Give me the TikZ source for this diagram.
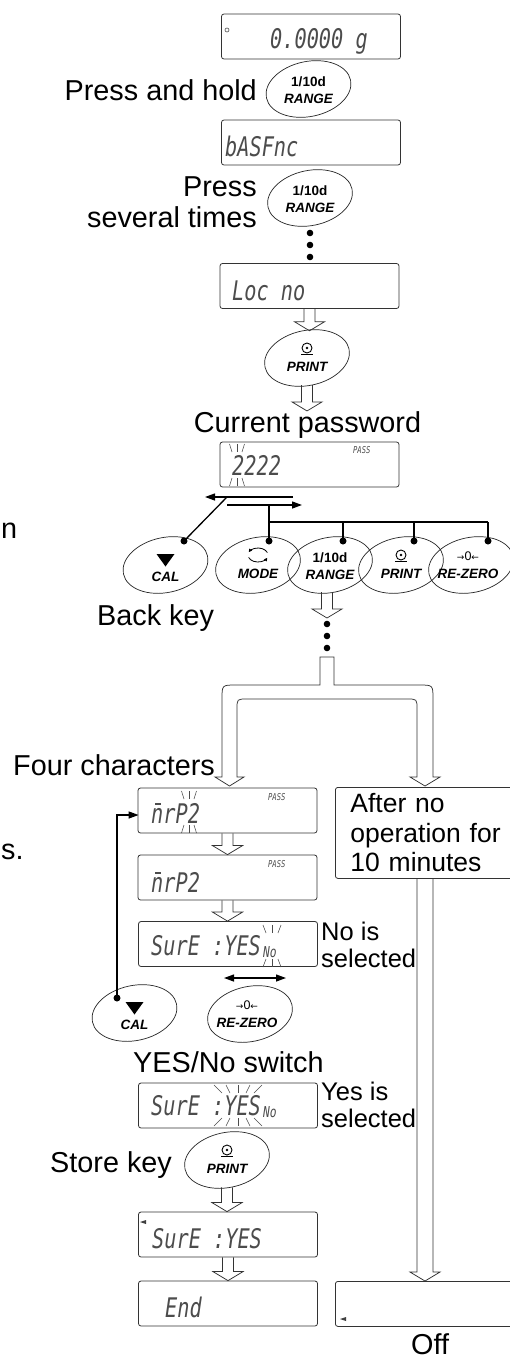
\documentclass[tikz,border=0pt]{standalone}
\usepackage{fontspec}
\setmainfont{Liberation Sans}
\newfontfamily\segf{DejaVu Sans Mono}
\newfontfamily\djf{DejaVu Sans}
\usepackage{graphicx}
\usetikzlibrary{shapes.geometric,arrows.meta,calc}
\newcommand\sg[1]{\scalebox{0.75}[1]{#1}}
\tikzset{
  lbl/.style={font=\fontsize{28.8}{31}\selectfont, inner sep=0pt},
  lbm/.style={font=\fontsize{26.5}{29.5}\selectfont, inner sep=0pt},
  lbs/.style={font=\fontsize{25.5}{27}\selectfont, inner sep=0pt},
  box/.style={draw=black!80, line width=0.8pt, rounded corners=2.5pt, inner sep=0pt},
  disp/.style={box, minimum width=179pt, minimum height=45pt},
  keyshape/.style={ellipse, draw=black!85, line width=0.7pt, minimum width=86pt, minimum height=55pt, inner sep=0pt, rotate=12},
  keytxt/.style={font=\fontsize{13.5}{17.5}\selectfont\bfseries\itshape, inner sep=0pt},
  seg/.style={font=\fontsize{27}{27}\selectfont\segf\itshape, text=black!70, inner sep=0pt, anchor=base west},
  segs/.style={font=\fontsize{15}{15}\selectfont\segf\itshape, text=black!70, inner sep=0pt, anchor=base west},
  pass/.style={font=\fontsize{9.5}{10}\selectfont\segf\itshape, text=black!70, inner sep=0pt, anchor=base west},
  hollow/.style={draw=black!80, line width=0.75pt},
  conn/.style={line width=1.3pt, draw=black},
  endarrow/.style={-{Triangle[length=10pt,width=7pt]}},
  jdot/.style={circle, fill=black, inner sep=0pt, minimum size=7pt},
  blinkl/.style={line width=0.55pt, draw=black!70},
  segbar/.style={line width=1.3pt, draw=black!70},
}
% hollow block arrow: optional shaft half width, start, tip
\newcommand\harrow[3][5.5pt]{%
  \draw[hollow] let \p1=#2, \p2=#3 in
   (\x1-#1,\y1) -- (\x1-#1,\y2+9pt) -- (\x1-15pt,\y2+9pt) -- (\x1,\y2)
   -- (\x1+15pt,\y2+9pt) -- (\x1+#1,\y2+9pt) -- (\x1+#1,\y1);}
% blink marks: cx, ytop, ybottom, offsets
\newcommand\blinkm[4]{%
  \foreach \o in {#4}{%
    \draw[blinkl] (#1+1.5*\o,#2-8) -- (#1+\o,#2);
    \draw[blinkl] (#1+\o,#3) -- (#1+1.5*\o,#3+8);}}
\newcommand\rangelbl[1]{\node[keytxt, align=center] (#1t) at ($(#1)+(0,1)$) {{\upshape 1/10d}\\RANGE};}
\newcommand\printlbl[1]{%
  \draw[line width=0.9pt] ($(#1)+(0,-10)$) circle[radius=5pt];
  \fill ($(#1)+(0,-10)$) circle[radius=1.4pt];
  \draw[line width=1.2pt] ($(#1)+(-6,-3.5)$) -- ($(#1)+(6,-3.5)$);
  \node[keytxt] (#1t) at ($(#1)+(0,9)$) {PRINT};}
\newcommand\callbl[1]{%
  \fill ($(#1)+(-9,-11)$) -- ($(#1)+(9,-11)$) -- ($(#1)+(0,1.5)$) -- cycle;
  \node[keytxt] (#1t) at ($(#1)+(0,12)$) {CAL};}
\newcommand\rzlbl[1]{%
  \node[font=\fontsize{12.5}{13}\selectfont, inner sep=0pt] (#1s) at ($(#1)+(-3,-9)$) {{\djf\fontsize{9}{9}\selectfont →}0{\djf\fontsize{9}{9}\selectfont ←}};
  \node[keytxt] (#1t) at ($(#1)+(-3,9)$) {RE-ZERO};}
\begin{document}
\begin{tikzpicture}[x=1pt,y=-1pt]
\path[use as bounding box, fill=white] (0,0) rectangle (510,1360);

% ---------- displays ----------
\node[disp] (d1) at (311,36.5) {};
\node[disp] (d2) at (311,142.5) {};
\node[disp] (d3) at (309.5,286) {};
\node[disp] (d4) at (309.5,464.5) {};
\node[disp] (d5) at (227.5,810.5) {};
\node[disp] (d6) at (227.5,877.5) {};
\node[disp] (d7) at (228,944) {};
\node[disp] (d8) at (228,1105.5) {};
\node[disp] (d9) at (228,1234.5) {};
\node[disp] (d10) at (228,1303.5) {};
\node[box, anchor=north west, minimum width=190pt, minimum height=45pt] (d11) at (335,1281) {};
\node[box, lbm, anchor=north west, minimum width=190pt, minimum height=91pt, text width=160pt, inner xsep=15pt, align=left] (idle) at (335,787) {After no\\operation for\\10 minutes};

% display contents
\draw[black!70, line width=0.6pt] (227,30) circle[radius=2pt];
\node[seg] (d1t) at (270,48) {\sg{0.0000 g}};
\node[seg] (d2t) at (225,156) {\sg{bASFnc}};
\node[seg] (d3t) at (232,300) {\sg{Loc no}};
\node[seg] (d4t) at (232,475) {\sg{2222}};
\node[pass] (d4p) at (353,453) {\sg{PASS}};
\blinkm{237}{452}{478}{-5,0,5}
\node[seg] (d5t) at (151,823) {\sg{nrP2}};
\draw[segbar] (155,804) -- (161,804);
\node[pass] (d5p) at (268,800) {\sg{PASS}};
\blinkm{189}{799}{825}{-5,0,5}
\node[seg] (d6t) at (151,892) {\sg{nrP2}};
\draw[segbar] (155,873) -- (161,873);
\node[pass] (d6p) at (268,867) {\sg{PASS}};
\node[seg] (d7t) at (151,955) {\sg{SurE :YES}};
\node[segs] (d7n) at (263,957) {\sg{No}};
\blinkm{272}{933}{959}{-6,0,6}
\node[seg] (d8t) at (151,1115) {\sg{SurE :YES}};
\node[segs] (d8n) at (263,1117) {\sg{No}};
\blinkm{238}{1093}{1118}{-16,-8,0,8,16}
\fill[black!75] (146,1220) -- (140,1222) -- (146,1224) -- cycle;
\node[seg] (d9t) at (152,1248) {\sg{SurE :YES}};
\node[seg] (d10t) at (165,1317) {\sg{End}};
\fill[black!75] (346,1317) -- (340,1319) -- (346,1321) -- cycle;

% ---------- keys ----------
\node[keyshape] (k1) at (308.5,89) {};
\rangelbl{k1}
\node[keyshape] (k2) at (310,198) {};
\rangelbl{k2}
\node[keyshape] (kp) at (307,358) {};
\printlbl{kp}

\node[keyshape] (cal1) at (165.5,565) {};
\callbl{cal1}
\node[keyshape] (mode) at (258,565) {};
\draw[line width=0.8pt, -{Triangle[length=3pt,width=3.5pt]}] ($(mode)+(0,-10)$) ++(200:10pt and 7pt) arc[start angle=200, end angle=335, x radius=10pt, y radius=7pt];
\draw[line width=0.8pt, -{Triangle[length=3pt,width=3.5pt]}] ($(mode)+(0,-10)$) ++(20:10pt and 7pt) arc[start angle=20, end angle=155, x radius=10pt, y radius=7pt];
\node[keytxt] (modet) at ($(mode)+(0,9)$) {MODE};
\node[keyshape] (rng) at (330,565) {};
\rangelbl{rng}
\node[keyshape] (prt) at (401,565) {};
\printlbl{prt}
\node[keyshape] (rz) at (471,565) {};
\rzlbl{rz}

\node[keyshape] (cal2) at (134.5,1013) {};
\callbl{cal2}
\node[keyshape] (rz2) at (250,1014) {};
\rzlbl{rz2}
\node[keyshape] (prt2) at (227,1160) {};
\printlbl{prt2}

% ---------- labels ----------
\node[lbl, anchor=base east] (l1) at (257,100) {Press and hold};
\node[lbl, anchor=north east, align=right] (l2) at (257,176.5) {Press\\several times};
\node[lbl, anchor=base] (cp) at (307.5,432) {Current password};
\node[lbl, anchor=base west] (l3) at (97,625) {Back key};
\node[lbl, anchor=base west] (l4) at (13,775) {Four characters};
\node[lbl, anchor=base west] (l5) at (133,1072) {YES/No switch};
\node[lbl, anchor=base west] (l6) at (50,1172) {Store key};
\node[lbl, anchor=base west] (l7) at (411,1354) {Off};
\node[lbs, anchor=north west, align=left] (l8) at (321,921.7) {No is\\selected};
\node[lbs, anchor=north west, align=left] (l9) at (321,1081.7) {Yes is\\selected};
\node[lbl, anchor=base west] (fr1) at (1,538) {n};
\node[lbl, anchor=base west] (fr2) at (1,859) {s.};

% ---------- hollow arrows ----------
\foreach \yy in {233,245,257} \fill (310,\yy) circle[radius=3.3pt];
\harrow{(d3.south)}{(kp.center |- kp.north)}
\harrow{(kp.center |- kp.south)}{(cp.north)}
\coordinate (rngb) at (327,592);
\coordinate (rngt) at (327,618);
\harrow{(rngb)}{(rngt)}
\foreach \yy in {624,636,648} \fill (327,\yy) circle[radius=3.3pt];
\draw[hollow] (334,685) -- (334,657) -- (320,657) -- (320,685) -- (236,685)
  .. controls (222,685) .. (222,699) -- (222,777) -- (215,777) -- (229.5,786)
  -- (244,777) -- (237,777) -- (237,709) .. controls (237,699) .. (247,699)
  -- (407,699) .. controls (417,699) .. (417,709) -- (417,777) -- (410,777)
  -- (425,786) -- (440,777) -- (433,777) -- (433,699) .. controls (433,685) .. (419,685) -- cycle;
\harrow{(d5.south)}{(d6.north)}
\harrow{(d6.south)}{(d7.north)}
\harrow{(prt2.center |- prt2.south)}{(d9.north)}
\harrow{(d9.south)}{(d10.north)}
\coordinate (rp) at ($(idle.south west)+(90,0)$);
\harrow[8pt]{(rp)}{(rp |- d11.north)}

% ---------- connectors ----------
\node[jdot] (dcal) at ($(cal1)+(18.5,-24)$) {};
\node[jdot] (dmode) at ($(mode)+(11,-24)$) {};
\node[jdot] (drng) at ($(rng)+(13,-24)$) {};
\node[jdot] (dprt) at ($(prt)+(13,-24)$) {};
\node[jdot] (drz) at ($(rz)+(17,-24)$) {};
\coordinate (la1) at (293,497);
\coordinate (la2) at (205,497);
\coordinate (ra1) at (227,505);
\coordinate (ra2) at (302,505);
\coordinate (hb) at (0,522);
\draw[conn,endarrow] (la1) -- (la2);
\draw[conn,endarrow] (ra1) -- (ra2);
\draw[conn] (ra1 |- la1) -- (dcal.center);
\draw[conn] (dmode.center) -- (dmode |- ra1);
\draw[conn] (dmode |- hb) -- (drz |- hb);
\draw[conn] (drng.center) -- (drng |- hb);
\draw[conn] (dprt.center) -- (dprt |- hb);
\draw[conn] (drz.center) -- (drz |- hb);

\node[jdot] (dcal2) at ($(cal2)+(-17.5,-15)$) {};
\draw[conn,endarrow] (dcal2.center) |- ($(d5.west)+(1,4.5)$);
\coordinate (sw1) at (224,978);
\coordinate (sw2) at (286,978);
\draw[conn,{Triangle[length=10pt,width=7pt]}-{Triangle[length=10pt,width=7pt]}] (sw1) -- (sw2);
\end{tikzpicture}
\end{document}
